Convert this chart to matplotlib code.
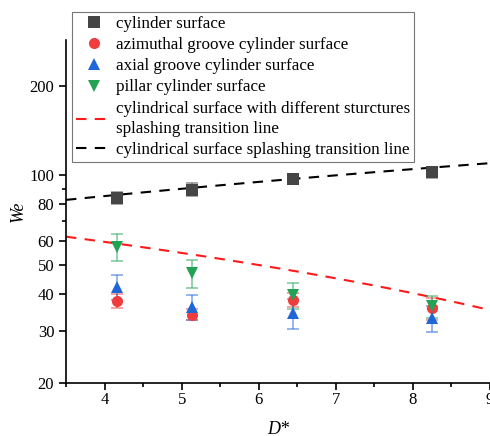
import numpy as np
import matplotlib
matplotlib.use("Agg")
from matplotlib import pyplot as plt
from matplotlib.ticker import FixedLocator, FixedFormatter, NullFormatter

plt.rcParams['font.family'] = ['Liberation Serif', 'DejaVu Serif']

# D* positions of the four cylinders
d_star = [4.16, 5.14, 6.45, 8.25]

# We at the splashing threshold, with error bars
we_cyl = [84.3, 89.5, 97.5, 102.4]
err_cyl = [4.0, 4.5, 4.0, 4.5]
we_azi = [37.9, 34.0, 38.1, 35.7]
err_azi = [2.0, 1.5, 2.0, 3.0]
we_axi = [42.2, 36.0, 34.4, 33.0]
err_axi = [4.0, 3.5, 4.0, 3.3]
we_pil = [57.6, 46.9, 39.6, 36.2]
err_pil = [6.0, 5.0, 4.0, 3.0]

# transition lines  We = a + b * D*
red_line = (79.4, -4.91)
black_line = (65.4, 4.96)

y_ticks = [20, 30, 40, 50, 60, 80, 100, 200]
x_ticks = [4, 5, 6, 7, 8, 9]

fig = plt.figure(figsize=(4.9, 4.36), dpi=100)
ax = fig.add_axes([0.1347, 0.1216, 0.8653, 0.7866])

xs = np.linspace(3.5, 9.0, 100)
red, = ax.plot(xs, red_line[0] + red_line[1] * xs, color='#ff1a1a', ls=(0, (5, 4)), lw=1.5,
               label='cylindrical surface with different sturctures\nsplashing transition line', zorder=2)
black, = ax.plot(xs, black_line[0] + black_line[1] * xs, color='black', ls=(0, (5, 4)), lw=1.5,
                 label='cylindrical surface splashing transition line', zorder=2)

series = [
    (we_cyl, err_cyl, 's', '#454545', 'cylinder surface'),
    (we_azi, err_azi, 'o', '#f03c3c', 'azimuthal groove cylinder surface'),
    (we_axi, err_axi, '^', '#1f66d8', 'axial groove cylinder surface'),
    (we_pil, err_pil, 'v', '#22a255', 'pillar cylinder surface'),
]
handles = []
for we, err, mk, col, lab in series:
    ax.errorbar(d_star, we, yerr=err, fmt='none', ecolor=col, alpha=0.55,
                elinewidth=1.2, capsize=4, capthick=1.2, zorder=3)
    h, = ax.plot(d_star, we, ls='none', marker=mk, ms=8, color=col,
                 markeredgewidth=0, label=lab, zorder=4)
    handles.append(h)

ax.set_yscale('log')
ax.set_xlim(3.5, 9.0)
ax.set_ylim(20, 286)

ax.yaxis.set_major_locator(FixedLocator(y_ticks))
ax.yaxis.set_minor_locator(FixedLocator([70, 90]))
ax.yaxis.set_major_formatter(FixedFormatter([str(t) for t in y_ticks]))
ax.yaxis.set_minor_formatter(NullFormatter())
ax.xaxis.set_major_locator(FixedLocator(x_ticks))
ax.xaxis.set_minor_locator(FixedLocator([3.5, 4.5, 5.5, 6.5, 7.5, 8.5]))

ax.tick_params(which='both', direction='out', labelsize=12, width=1.2)
ax.tick_params(which='major', length=5)
ax.tick_params(which='minor', length=3)
ax.tick_params(axis='x', pad=1.5)
for s in ['top', 'right']:
    ax.spines[s].set_visible(False)
for s in ['left', 'bottom']:
    ax.spines[s].set_linewidth(1.2)

ax.set_xlabel('D*', fontsize=13, fontstyle='italic', labelpad=9)
ax.set_ylabel('We', fontsize=13, fontstyle='italic', labelpad=2)

leg = ax.legend(handles=handles + [red, black], loc='upper left',
                bbox_to_anchor=(0.013, 1.082), fontsize=12.25, frameon=True, fancybox=False,
                edgecolor='#555555', handlelength=2.2, handletextpad=0.15,
                labelspacing=0.3, borderpad=0.25, borderaxespad=0)
for t in leg.get_texts():
    t.set_linespacing(1.35)
leg.get_frame().set_linewidth(0.8)
leg.set_zorder(5)

fig.savefig('out.png', dpi=100)
